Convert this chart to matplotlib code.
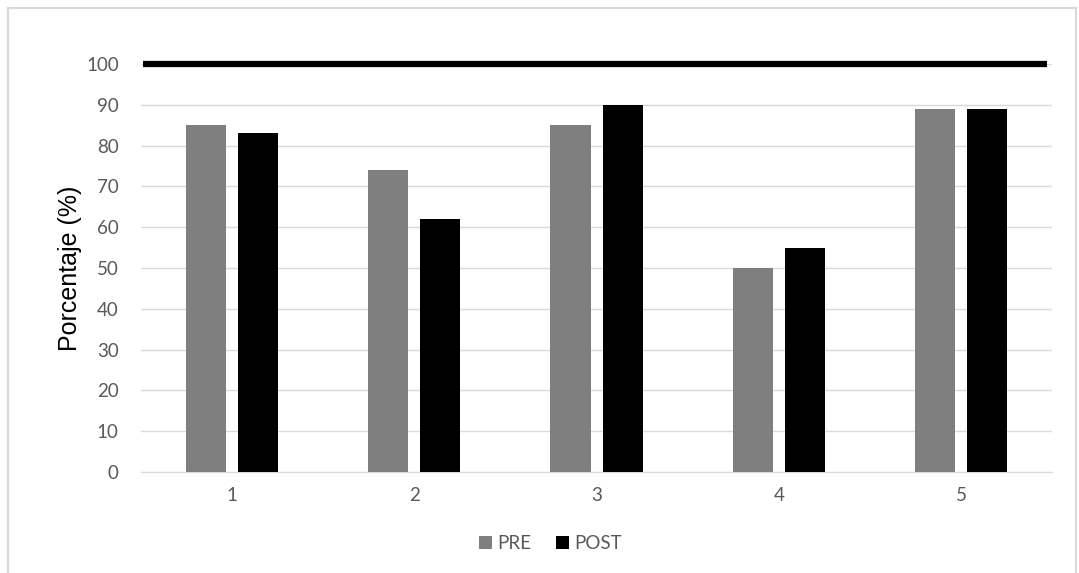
import numpy as np
import matplotlib.pyplot as plt
from matplotlib.patches import Rectangle

categories = ["1", "2", "3", "4", "5"]
pre = [85, 74, 85, 50, 89]
post = [83, 62, 90, 55, 89]
target = 100
y_ticks = [0, 10, 20, 30, 40, 50, 60, 70, 80, 90, 100]

plt.rcParams["font.family"] = ["Lato", "DejaVu Sans"]

fig = plt.figure(figsize=(10.79, 5.73), dpi=100)
ax = fig.add_axes([0.1307, 0.1763, 0.8443, 0.712])

x = np.arange(len(categories))
w = 0.22
gap = 0.066
ax.bar(x - (w + gap) / 2, pre, w, color="#7f7f7f", label="PRE", zorder=3)
ax.bar(x + (w + gap) / 2, post, w, color="#000000", label="POST", zorder=3)

ax.set_xlim(-0.5, len(categories) - 0.5)
ax.set_ylim(0, 100)
# reference line at 100 %, left unclipped so its full width shows
ax.axhline(target, xmin=0.002, xmax=0.995, color="black", lw=4.5, zorder=4,
           solid_capstyle="butt", clip_on=False)

ax.set_yticks(y_ticks)
ax.set_xticks(x)
ax.set_xticklabels(categories)
ax.tick_params(axis="both", length=0, labelsize=13.5, labelcolor="#595959")
ax.tick_params(axis="y", pad=16)
ax.tick_params(axis="x", pad=11)
ax.grid(axis="y", color="#d9d9d9", lw=1, zorder=0)
for s in ["top", "right", "left"]:
    ax.spines[s].set_visible(False)
ax.spines["bottom"].set_color("#d9d9d9")

ax.set_ylabel("Porcentaje (%)", family=["Liberation Sans"], fontsize=18,
              color="black", labelpad=3)

fig.legend(loc="center", bbox_to_anchor=(0.51, 0.052), ncol=2, frameon=False,
           fontsize=13.5, labelcolor="#595959", handlelength=0.7, handleheight=0.7,
           handletextpad=0.3, columnspacing=1.3)

fig.patches.append(Rectangle((0.007, -0.01), 0.99, 0.996, transform=fig.transFigure,
                             fill=False, edgecolor="#d9d9d9", lw=1.5))

fig.savefig("out.png", dpi=100)
